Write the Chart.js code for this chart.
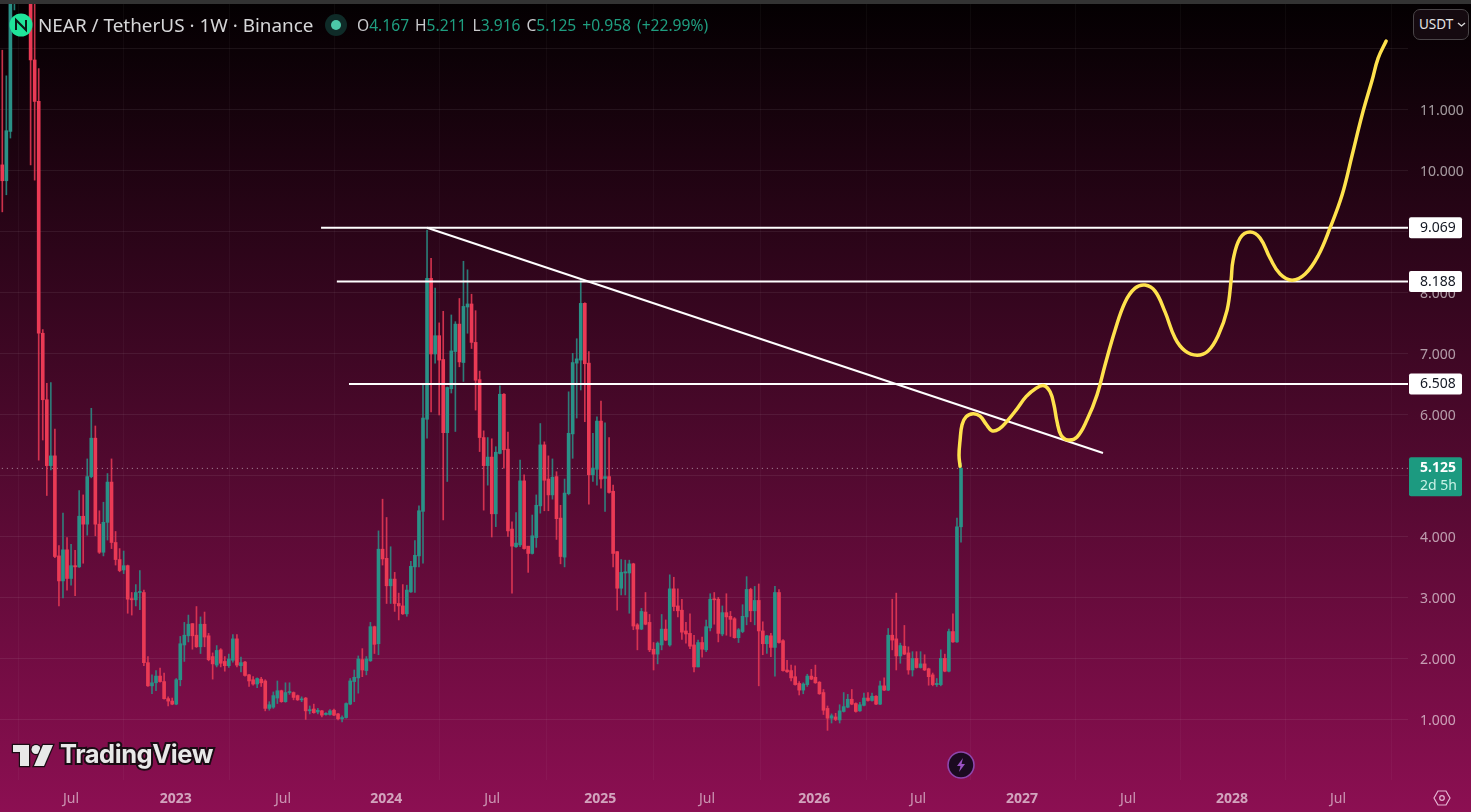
<!DOCTYPE html>
<html>
<head>
<meta charset="utf-8">
<title>NEAR / TetherUS 1W</title>
<script src="https://cdn.jsdelivr.net/npm/chart.js@4/dist/chart.umd.min.js"></script>
<style>
html,body{margin:0;padding:0;width:1471px;height:812px;overflow:hidden;background:#000}
#wrap{position:relative;width:1471px;height:812px}
canvas{position:absolute;left:0;top:0}
.ov{position:absolute;white-space:nowrap;font-family:"Noto Sans",sans-serif}
#topbar{left:0;top:0;width:1471px;height:4px;background:#333}
#title{left:38px;top:12px;font-size:18.9px;line-height:26px;color:#d6d6d8}
#ohlc{left:357px;top:14px;font-size:15.6px;line-height:22px;color:#c9c9cc}
#ohlc b{font-weight:400;color:#1f9e80;margin-right:6px}
#usdt{left:1413px;top:9px;width:56px;height:31px;box-sizing:border-box;border:1px solid #4a4548;border-radius:7px;background:#150a10;color:#e4e4e4;font-size:13.5px;line-height:29px;padding-left:5px}
#tv{left:60px;top:736px;font-family:Inter,sans-serif;font-weight:700;font-size:25.5px;line-height:36px;color:#e8e8e8;letter-spacing:-.45px;-webkit-text-stroke:4px #1a0c14;paint-order:stroke fill}
</style>
</head>
<body>
<div id="wrap">
<canvas id="c" width="1471" height="812"></canvas>
<div class="ov" id="topbar"></div>
<svg class="ov" style="left:9px;top:13px" width="24" height="24" viewBox="0 0 24 24"><circle cx="12" cy="12" r="11.5" fill="#1fe49a"/><path d="M7 17V7l10 10V7" fill="none" stroke="#0a1a16" stroke-width="2"/></svg>
<div class="ov" id="title">NEAR / TetherUS · 1W · Binance</div>
<svg class="ov" style="left:325px;top:14px" width="22" height="22"><circle cx="11" cy="11" r="11" fill="#0f2b28"/><circle cx="11" cy="11" r="5" fill="#4cc8a8"/></svg>
<div class="ov" id="ohlc">O<b>4.167</b>H<b>5.211</b>L<b>3.916</b>C<b>5.125</b><b>+0.958</b><b>(+22.99%)</b></div>
<div class="ov" id="usdt">USDT<svg style="position:absolute;left:43px;top:12px" width="9" height="6"><path d="M1 1l3.5 3L8 1" fill="none" stroke="#ddd" stroke-width="1.3"/></svg></div>
<svg class="ov" style="left:11px;top:742px" width="46" height="28" viewBox="0 0 46 28"><g fill="#e8e8e8" stroke="#1a0c14" stroke-width="2.5" paint-order="stroke"><path d="M18 24H9V10H2V3h16z"/><circle cx="25" cy="7.5" r="4.5"/><path d="M33 24H23L32 3h10z"/></g></svg>
<div class="ov" id="tv">TradingView</div>
<svg class="ov" style="left:947px;top:751px" width="28" height="28"><circle cx="14" cy="14" r="13" fill="#1b0a20" stroke="#8d47ad" stroke-width="1.6"/><path d="M16 7l-6 8h3.5L12 21l6-8h-3.5z" fill="#9a52c2"/></svg>
<svg class="ov" style="left:1433px;top:789px" width="18" height="18" viewBox="0 0 18 18"><path d="M5 2h8l4 7-4 7H5L1 9z" fill="none" stroke="#e6b6d4" stroke-width="1.2"/><circle cx="9" cy="9" r="2.3" fill="none" stroke="#e6b6d4" stroke-width="1.2"/></svg>
</div>
<script>
const opens = [
10.1,9.84,10.65,13.5,14.2,15,15.6,14,11.82,11.14,
7.34,6.25,5.17,5.33,3.69,3.28,3.79,3.32,3.53,3.51,
4.34,4.21,4.99,5.62,4.21,3.75,4.24,4.90,3.91,3.63,
3.46,3.53,2.99,2.97,3.09,3.09,1.94,1.56,1.61,1.72,
1.63,1.35,1.31,1.26,1.66,2.23,2.38,2.58,2.39,2.20,
2.57,2.38,2.04,1.90,2.15,1.96,1.89,1.98,2.33,1.89,
1.95,1.74,1.66,1.59,1.67,1.64,1.19,1.21,1.36,1.48,
1.30,1.45,1.45,1.40,1.33,1.36,1.15,1.18,1.13,1.15,
1.09,1.09,1.16,1.10,1.02,1.04,1.26,1.63,1.69,1.99,
1.81,1.97,2.53,2.25,3.80,3.65,3.20,3.31,2.91,2.87,
2.74,3.10,3.51,3.69,4.42,5.93,8.24,7.0,7.30,6.91,
5.71,6.43,7.04,7.49,6.86,7.77,7.82,7.19,6.58,5.63,
5.17,5.31,4.38,5.37,6.34,5.44,4.13,3.84,3.87,4.92,
3.85,3.73,3.99,4.51,5.51,4.95,4.69,4.99,4.31,3.67,
4.71,5.69,6.85,6.90,7.83,6.85,5.02,5.11,5.90,4.96,
4.99,4.75,3.76,3.16,3.41,3.41,3.56,2.56,2.49,2.77,
2.60,2.16,2.08,2.23,2.49,2.23,3.15,2.87,2.80,2.46,
2.42,2.23,1.87,2.27,2.15,2.51,2.98,2.98,2.41,2.76,
2.70,2.66,2.35,2.45,2.69,3.14,2.79,2.96,2.46,2.25,
2.38,2.19,3.09,2.30,1.82,1.81,1.71,1.60,1.49,1.58,
1.72,1.70,1.62,1.45,1.19,1.03,1.05,1.00,1.14,1.21,
1.34,1.27,1.15,1.24,1.36,1.32,1.39,1.26,1.56,1.49,
2.39,2.33,2.05,2.21,2.10,1.82,2.01,1.86,1.92,1.84,
1.74,1.58,1.58,2.01,1.80,2.45,2.28,4.167];
const closes = [
9.84,10.66,13.5,14.2,15,15.6,14,11.82,11.14,7.34,
6.25,5.17,5.33,3.68,3.28,3.79,3.32,3.53,3.51,4.34,
4.21,4.99,5.62,4.21,3.75,4.24,4.90,3.91,3.63,3.45,
3.53,2.98,2.97,3.09,3.09,1.94,1.56,1.61,1.72,1.63,
1.35,1.31,1.26,1.66,2.25,2.39,2.57,2.38,2.20,2.57,
2.36,1.99,1.92,2.14,1.93,1.89,2.0,2.33,1.90,1.94,
1.73,1.64,1.59,1.68,1.61,1.19,1.25,1.40,1.48,1.30,
1.45,1.46,1.37,1.33,1.34,1.15,1.17,1.12,1.16,1.08,
1.11,1.15,1.08,1.02,1.04,1.27,1.64,1.70,2.0,1.82,
2.0,2.53,2.24,3.80,3.64,3.20,3.31,2.91,2.87,2.74,
3.13,3.52,3.70,4.43,5.95,8.24,7.0,7.30,6.90,5.71,
6.45,7.05,7.49,6.87,7.78,7.82,7.19,6.57,5.63,5.17,
5.31,4.38,5.39,6.34,5.43,4.10,3.85,3.90,4.92,3.81,
3.73,4.02,4.52,5.51,4.93,4.69,4.98,4.30,3.68,4.72,
5.70,6.86,6.92,7.83,6.84,5.02,5.13,5.90,4.95,4.99,
4.73,3.73,3.16,3.42,3.43,3.56,2.54,2.49,2.78,2.57,
2.15,2.08,2.26,2.49,2.31,3.15,2.86,2.79,2.44,2.41,
2.21,1.87,2.27,2.16,2.53,2.98,2.97,2.42,2.76,2.69,
2.65,2.35,2.48,2.70,3.14,2.79,2.96,2.46,2.25,2.38,
2.19,3.09,2.27,1.81,1.79,1.69,1.58,1.49,1.59,1.72,
1.67,1.61,1.43,1.16,1.03,1.07,1.01,1.15,1.22,1.34,
1.26,1.14,1.25,1.36,1.32,1.39,1.26,1.56,1.49,2.39,
2.31,2.05,2.22,2.08,1.82,2.01,1.86,1.92,1.82,1.71,
1.58,1.60,2.01,1.80,2.45,2.28,4.167,5.125];
const highs = [
11.98,11.56,14,15,15.5,16,16.2,15,13.5,11.68,
7.4,6.52,6.53,5.77,3.86,4.39,3.99,3.88,3.78,4.76,
4.69,5.28,6.11,5.82,4.43,4.57,5.04,5.28,4.09,3.81,
3.77,3.54,3.09,3.22,3.45,3.13,2.04,1.74,1.81,1.85,
1.77,1.38,1.36,1.68,2.37,2.60,2.72,2.58,2.86,2.69,
2.77,2.42,2.10,2.22,2.17,2.04,2.08,2.40,2.40,2.03,
1.96,1.75,1.71,1.69,1.70,1.66,1.30,1.46,1.64,1.49,
1.61,1.61,1.46,1.41,1.38,1.37,1.23,1.26,1.19,1.16,
1.12,1.17,1.18,1.11,1.07,1.28,1.68,1.82,2.05,2.17,
2.04,2.60,2.54,4.10,4.62,4.32,3.84,3.42,3.08,3.22,
3.21,3.60,3.94,4.51,6.52,9.03,8.57,8.08,7.51,7.70,
6.46,7.64,7.53,7.91,8.52,8.38,7.98,7.71,6.72,5.74,
5.63,5.61,5.48,6.48,6.35,5.72,4.25,4.40,5.26,5.02,
3.84,4.36,4.69,5.86,5.56,5.33,5.28,5.07,4.52,4.95,
6.38,7.01,7.25,8.21,7.84,7.04,5.70,5.97,6.23,5.87,
5.63,4.85,3.76,3.63,3.62,3.62,3.57,2.58,2.83,3.09,
2.73,2.27,2.28,2.73,2.64,3.38,3.34,3.15,2.98,2.60,
2.74,2.39,2.31,2.36,2.64,3.07,3.09,3.01,2.87,3.07,
2.78,2.68,2.50,2.89,3.35,3.16,3.19,3.23,2.61,2.39,
2.42,3.19,3.14,2.32,1.98,1.90,1.89,1.63,1.61,1.75,
1.83,1.90,1.63,1.50,1.23,1.10,1.11,1.25,1.45,1.42,
1.50,1.28,1.29,1.44,1.45,1.44,1.40,1.64,1.69,2.50,
2.98,3.08,2.26,2.55,2.20,2.12,2.12,2.12,2.07,1.85,
1.77,1.68,2.15,2.08,2.49,2.74,4.31,5.211];
const lows = [
9.33,9.61,10.54,12.64,13.8,14.5,13.5,10.1,9.85,5.26,
5.59,4.68,5.10,3.66,2.87,3.0,3.13,3.21,3.04,3.5,
3.57,4.03,4.97,4.02,3.73,3.69,3.95,3.81,3.54,3.43,
3.40,2.75,2.72,2.87,2.81,1.89,1.55,1.43,1.48,1.62,
1.34,1.23,1.25,1.25,1.56,1.96,2.28,2.16,2.19,2.09,
2.20,1.97,1.67,1.87,1.87,1.80,1.86,1.95,1.87,1.79,
1.72,1.55,1.57,1.53,1.55,1.15,1.16,1.19,1.27,1.29,
1.29,1.42,1.33,1.32,1.30,1.01,1.10,1.11,1.10,1.05,
1.08,1.08,1.07,1.0,0.97,1.03,1.25,1.30,1.44,1.71,
1.74,1.96,2.09,2.07,3.54,2.91,2.91,2.78,2.64,2.73,
2.70,3.09,3.09,3.51,3.57,5.62,6.05,6.85,6.0,4.28,
4.91,6.36,5.73,6.79,6.55,7.34,7.09,6.08,5.40,4.44,
4.85,4.0,4.17,5.36,5.13,4.01,3.08,3.83,3.84,3.80,
3.42,3.72,3.83,4.39,4.43,4.43,4.62,3.96,3.56,3.51,
4.69,5.29,5.95,6.41,5.89,4.54,4.91,4.85,4.80,4.42,
4.72,3.51,2.80,3.05,3.05,2.75,2.48,2.15,2.48,2.56,
2.12,1.82,1.92,2.15,2.30,2.21,2.79,2.69,2.32,2.26,
2.17,1.79,1.87,2.03,2.12,2.46,2.57,2.28,2.38,2.39,
2.37,2.34,2.27,2.43,2.56,2.61,2.56,1.56,2.07,2.09,
2.04,1.72,2.26,1.80,1.78,1.64,1.57,1.41,1.43,1.55,
1.66,1.60,1.42,1.09,0.83,0.95,0.99,0.95,1.13,1.20,
1.25,1.13,1.14,1.23,1.31,1.31,1.25,1.25,1.48,1.48,
2.15,1.82,1.93,2.07,1.75,1.72,1.85,1.85,1.81,1.57,
1.56,1.55,1.56,1.79,1.79,2.27,2.27,3.916];

const priceTicks = [1,2,3,4,5,6,7,8,9,10,11,12];
const timeTickWeeks = [17,42.9,69.4,94.9,121.1,147.8,174.2,200.7,226.4,252.1,278.3,304,330.2];
const timeTickLabels = ['Jul','2023','Jul','2024','Jul','2025','Jul','2026','Jul','2027','Jul','2028','Jul'];

const levelPrices = [9.069,8.188,6.508];
const levelStartWeeks = [78.8,82.7,85.7];
const lastPrice = 5.125;
const trendWeeks = [105,272.1];
const trendPrices = [9.069,5.377];
const sketchWeeks = [236.77,236.51,236.77,237.26,238.26,239.98,241.71,243.2,244.68,246.41,248.39,250.61,253.08,255.56,257.53,259.02,260,260.74,261.73,263.46,265.69,268.16,270.63,272.61,275.08,277.55,280.03,282.5,284.97,287.44,289.92,292.39,295.36,298.08,300.55,302.78,303.77,304.26,305.99,308.46,310.94,313.41,315.88,318.85,322.07,325.28,328.25,331.22,333.69,336.16,338.64,340.12,342.1];
const sketchPrices = [5.16,5.34,5.59,5.84,5.97,6.02,5.98,5.85,5.74,5.77,5.9,6.08,6.3,6.44,6.48,6.38,6.16,5.89,5.67,5.59,5.64,5.92,6.33,6.82,7.39,7.85,8.08,8.13,8.03,7.69,7.26,7.05,6.98,7.05,7.3,7.72,8.21,8.54,8.9,9,8.9,8.57,8.31,8.21,8.31,8.61,9.07,9.61,10.26,10.92,11.49,11.85,12.13];

const GREEN = '#2a9187', RED = '#ea3a55', FONT = '"Noto Sans", sans-serif';
const isUp = i => closes[i] >= opens[i];
const wicks = highs.map((h,i)=>({x:i,y:[lows[i],h]}));
const bodies = opens.map((o,i)=>({x:i,y:[Math.min(o,closes[i]),Math.max(o,closes[i])]}));
const colors = opens.map((o,i)=>isUp(i)?GREEN:RED);
const wickColors = opens.map((o,i)=>isUp(i)?'rgba(42,145,135,.85)':'rgba(234,58,85,.85)');

const levelSets = levelPrices.map((p,k)=>({
  type:'line', order:2, borderColor:'#ffffff', borderWidth:2, pointRadius:0,
  data:[{x:levelStartWeeks[k],y:p},{x:400,y:p}]
}));

const bgAndLabels = {
  id:'bgAndLabels',
  beforeDraw(chart){
    const {ctx,width,height}=chart;
    const g=ctx.createLinearGradient(0,0,0,height);
    g.addColorStop(0,'#030001');
    g.addColorStop(.5,'#470829');
    g.addColorStop(1,'#8c0f52');
    ctx.save();ctx.fillStyle=g;ctx.fillRect(0,0,width,height);ctx.restore();
  },
  afterDraw(chart){
    const {ctx,scales:{y}}=chart;
    const left=chart.chartArea.right+1, w=53;
    ctx.save();
    ctx.textBaseline='middle';ctx.textAlign='left';
    levelPrices.forEach(p=>{
      const py=y.getPixelForValue(p);
      ctx.fillStyle='#ffffff';
      ctx.beginPath();ctx.roundRect(left,py-10.5,w,21,2);ctx.fill();
      ctx.fillStyle='#131722';ctx.font='14px '+FONT;
      ctx.fillText(p.toFixed(3),left+11,py+.5);
    });
    const py=y.getPixelForValue(lastPrice);
    ctx.fillStyle='#1c9a80';
    ctx.beginPath();ctx.roundRect(left,py-11,w,39,2);ctx.fill();
    ctx.fillStyle='#ffffff';ctx.font='bold 14px '+FONT;
    ctx.fillText(lastPrice.toFixed(3),left+11,py-.5);
    ctx.fillStyle='#c9f2e6';ctx.font='14px '+FONT;
    ctx.fillText('2d 5h',left+11,py+17.5);
    ctx.restore();
  }
};

new Chart(document.getElementById('c'),{
  type:'bar',
  plugins:[bgAndLabels],
  data:{datasets:[
    {type:'line',order:1,borderColor:'#ffe24d',borderWidth:3.5,pointRadius:0,tension:.4,borderCapStyle:'round',
      data:sketchWeeks.map((x,i)=>({x,y:sketchPrices[i]}))},
    {type:'line',order:2,borderColor:'#ffffff',borderWidth:2,pointRadius:0,
      data:trendWeeks.map((x,i)=>({x,y:trendPrices[i]}))},
    ...levelSets,
    {type:'bar',order:3,data:bodies,backgroundColor:colors,barThickness:3,minBarLength:1,grouped:false,borderWidth:0},
    {type:'bar',order:4,data:wicks,backgroundColor:wickColors,barThickness:1,grouped:false,borderWidth:0},
    {type:'line',order:5,borderColor:'rgba(255,255,255,.55)',borderWidth:1,borderDash:[1,4],pointRadius:0,
      data:[{x:-10,y:lastPrice},{x:400,y:lastPrice}]}
  ]},
  options:{
    responsive:false,animation:false,devicePixelRatio:1,
    layout:{padding:0},
    plugins:{legend:{display:false},tooltip:{enabled:false},title:{display:false}},
    scales:{
      x:{type:'linear',offset:false,min:-0.569,max:347.5,
        afterBuildTicks:a=>{a.ticks=timeTickWeeks.map(v=>({value:v}));},
        afterFit:a=>{a.height=32;a.paddingLeft=0;a.paddingRight=0;},
        border:{display:false},
        grid:{color:'rgba(255,255,255,.035)',drawTicks:false},
        ticks:{autoSkip:false,maxRotation:0,padding:11,
          callback:(v,i)=>timeTickLabels[i],
          font:c=>({family:FONT,size:14,weight:/^\d/.test(timeTickLabels[c.index]||'')?'bold':'normal'}),
          color:c=>/^\d/.test(timeTickLabels[c.index]||'')?'rgba(255,255,255,.62)':'rgba(255,255,255,.55)'}
      },
      y:{type:'linear',position:'right',min:0.0164,max:12.803,
        afterBuildTicks:a=>{a.ticks=priceTicks.map(v=>({value:v}));},
        afterFit:a=>{a.width=63;a.paddingTop=0;a.paddingBottom=0;},
        border:{display:false},
        grid:{color:'rgba(255,255,255,.07)',drawTicks:false},
        ticks:{autoSkip:false,padding:12,labelOffset:1.5,
          callback:v=>v===12?'':v.toFixed(3),
          font:{family:FONT,size:14},color:'rgba(255,255,255,.6)'}
      }
    }
  }
});
</script>
</body>
</html>
